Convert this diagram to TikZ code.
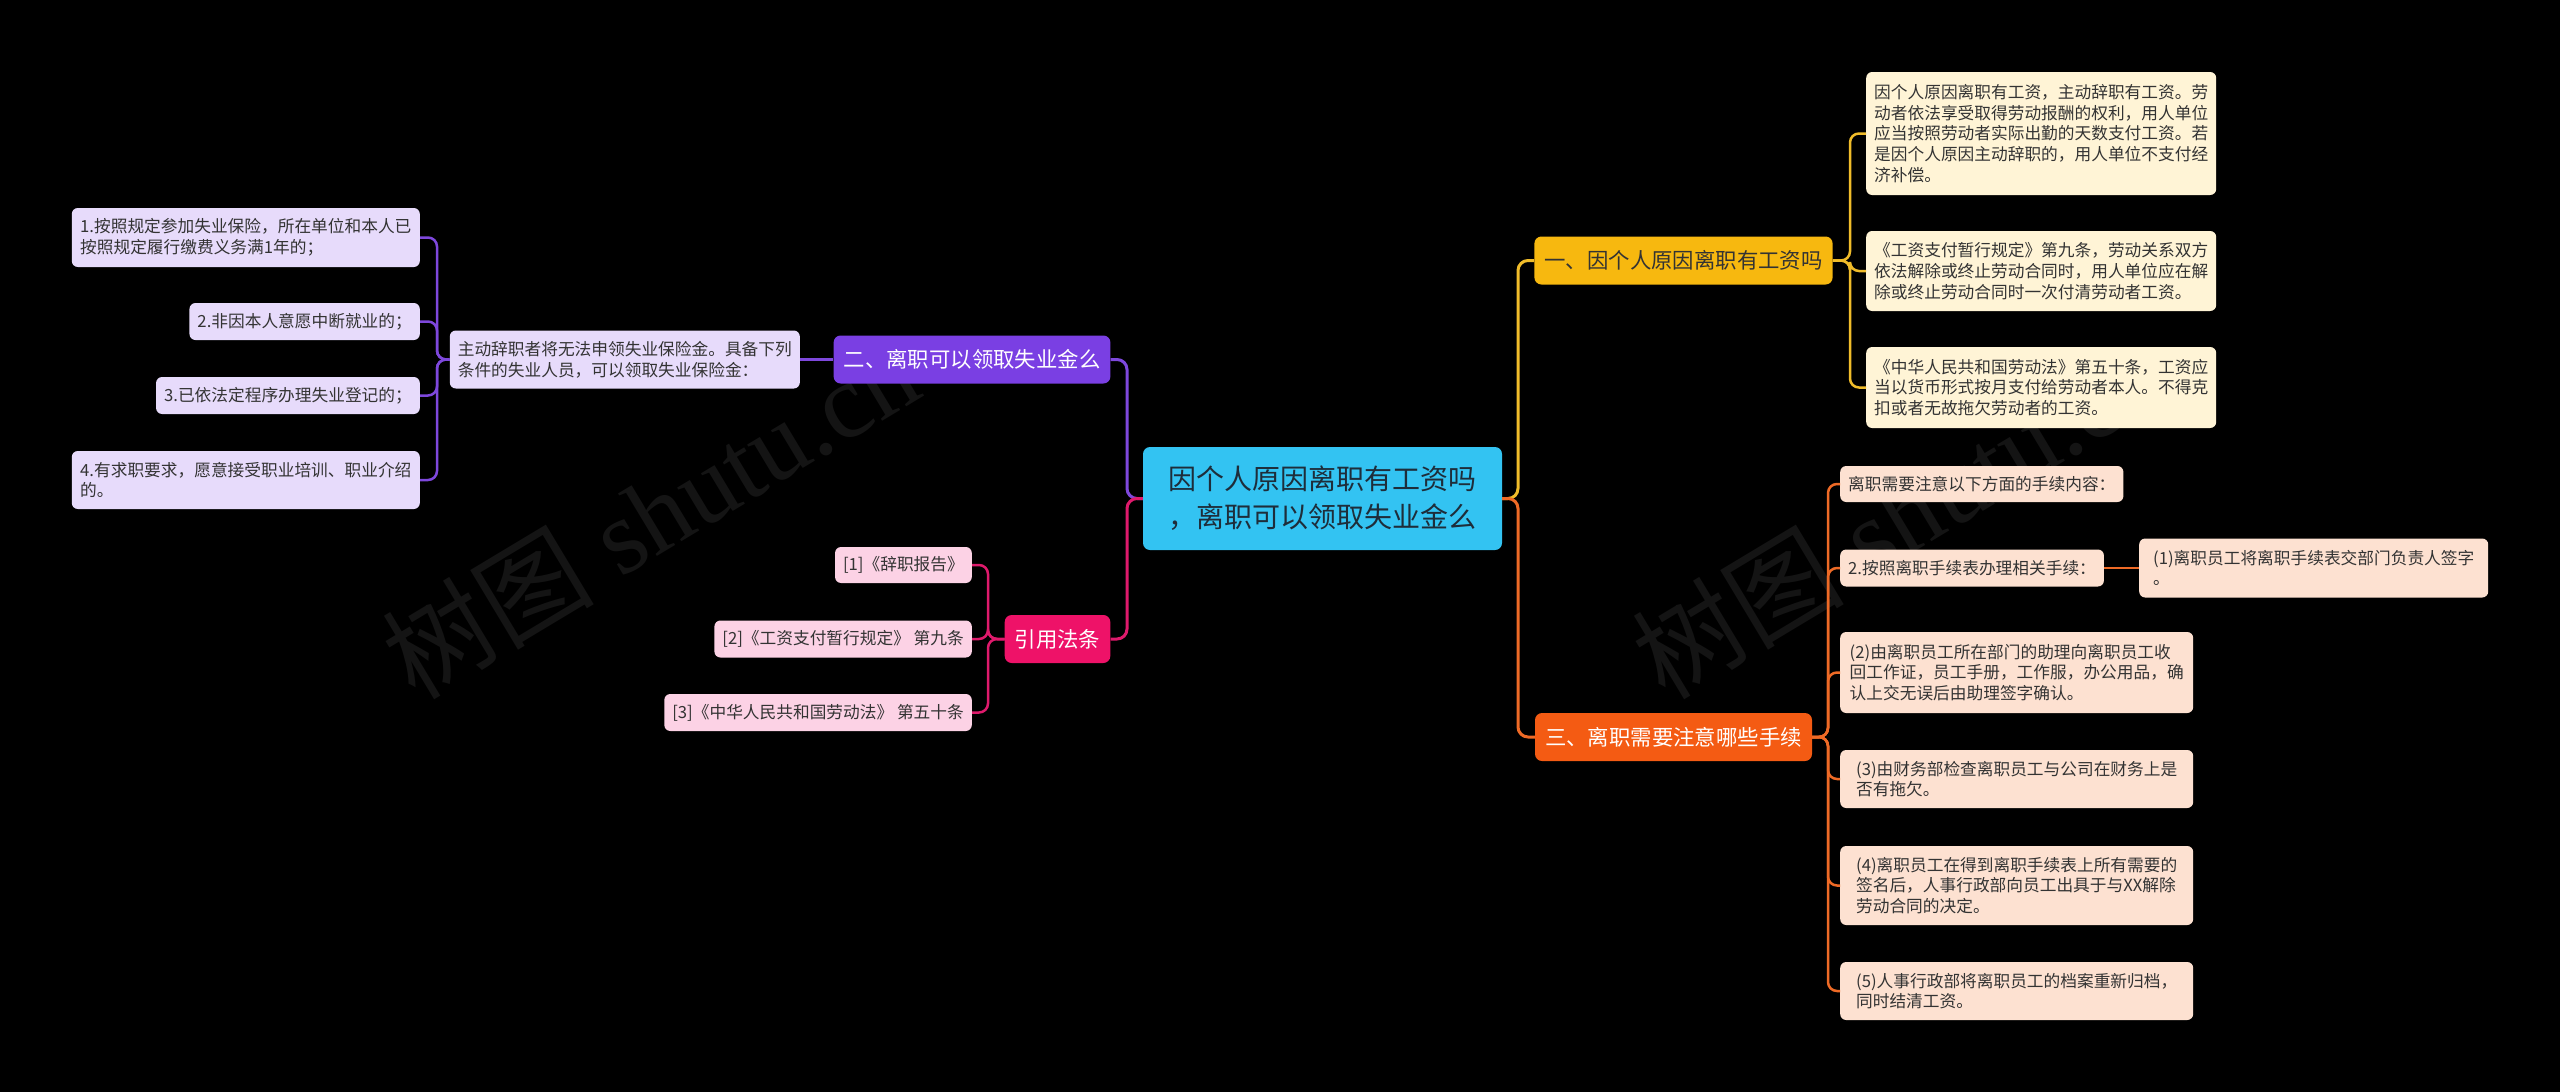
\documentclass[tikz,border=0pt]{standalone}
\usepackage{fontspec}
\setmainfont{Noto Sans CJK SC}
\newfontfamily\wmserif{Liberation Serif}
\definecolor{bg}{HTML}{000000}
\definecolor{rootfill}{HTML}{33C3F2}
\definecolor{roottext}{HTML}{1E2D3A}
\definecolor{darktext}{HTML}{333333}
\definecolor{bAfill}{HTML}{F7B80F}
\definecolor{yfill}{HTML}{FFF4D6}
\definecolor{ycon}{HTML}{F0BC2A}
\definecolor{bCfill}{HTML}{F45B13}
\definecolor{ofill}{HTML}{FDE1D1}
\definecolor{ocon}{HTML}{EE6A26}
\definecolor{bBfill}{HTML}{7A3FE3}
\definecolor{vfill}{HTML}{E7DBFB}
\definecolor{vcon}{HTML}{7E48DC}
\definecolor{bDfill}{HTML}{EE1268}
\definecolor{kfill}{HTML}{FCD2E5}
\definecolor{kcon}{HTML}{DF1A6C}
\definecolor{wmc}{HTML}{FFFFFF}
\begin{document}
\begin{tikzpicture}[x=1pt,y=-1pt,
  rootbox/.style={rounded corners=7pt, fill=rootfill, text=roottext, align=center,
    font=\fontsize{28}{38}\selectfont, minimum width=359pt, minimum height=103pt, inner sep=0pt},
  branchbox/.style={rounded corners=7pt, text=white, font=\fontsize{21.4}{26}\selectfont,
    minimum height=48pt, inner xsep=10pt, inner ysep=0pt},
  leafbox/.style={rounded corners=6pt, inner xsep=8pt, inner ysep=4pt, align=left, text=darktext,
    font=\fontsize{16.7}{20.7}\selectfont},
  yleaf/.style={leafbox, fill=yfill},
  oleaf/.style={leafbox, fill=ofill},
  vleaf/.style={leafbox, fill=vfill},
  kleaf/.style={leafbox, fill=kfill},
  mainline/.style={line width=3pt, rounded corners=10pt},
  subline/.style={line width=2.5pt, rounded corners=9pt},
  wmark/.style={text=wmc, opacity=0.08, rotate=31, font=\fontsize{106}{106}\selectfont}
]
\useasboundingbox (0,0) rectangle (2560,1092);
\fill[bg] (0,0) rectangle (2560,1092);

% watermarks
\node[wmark] (wm1) at (650,514) {树图\wmserif\ shutu.cn};
\node[wmark] (wm2) at (1900,514) {树图\wmserif\ shutu.cn};

% root
\node[rootbox] (root) at (1322.5,498.5) {因个人原因离职有工资吗\\，离职可以领取失业金么};

% branches
\node[branchbox, fill=bAfill, text=darktext, minimum width=297pt] (bA) at (1683.5,260.5) {一、因个人原因离职有工资吗};
\node[branchbox, fill=bCfill, minimum width=277pt] (bC) at (1673.5,737) {三、离职需要注意哪些手续};
\node[branchbox, fill=bBfill, minimum width=276pt] (bB) at (972,359.5) {二、离职可以领取失业金么};
\node[branchbox, fill=bDfill, minimum width=105pt] (bD) at (1057.5,639) {引用法条};

% branch A leaves
\node[yleaf, anchor=west, minimum width=350pt, minimum height=123pt] (a1) at (1866,133.5)
  {因个人原因离职有工资，主动辞职有工资。劳\\动者依法享受取得劳动报酬的权利，用人单位\\应当按照劳动者实际出勤的天数支付工资。若\\是因个人原因主动辞职的，用人单位不支付经\\济补偿。};
\node[yleaf, anchor=west, minimum width=350pt, minimum height=80pt] (a2) at (1866,271)
  {《工资支付暂行规定》第九条，劳动关系双方\\依法解除或终止劳动合同时，用人单位应在解\\除或终止劳动合同时一次付清劳动者工资。};
\node[yleaf, anchor=west, minimum width=350pt, minimum height=81pt] (a3) at (1866,387.5)
  {《中华人民共和国劳动法》第五十条，工资应\\当以货币形式按月支付给劳动者本人。不得克\\扣或者无故拖欠劳动者的工资。};

% branch C leaves
\node[oleaf, anchor=west, minimum height=36pt] (c1) at (1840,484) {离职需要注意以下方面的手续内容：};
\node[oleaf, anchor=west, minimum height=37pt] (c2) at (1840,568) {2.按照离职手续表办理相关手续：};
\node[oleaf, anchor=west, minimum width=349pt, minimum height=59pt] (c2a) at (2139,568) {(1)离职员工将离职手续表交部门负责人签字\\。};
\node[oleaf, anchor=west, minimum width=353pt, minimum height=81pt] (c3) at (1840,672.5)
  {(2)由离职员工所在部门的助理向离职员工收\\回工作证，员工手册，工作服，办公用品，确\\认上交无误后由助理签字确认。};
\node[oleaf, anchor=west, minimum width=353pt, minimum height=58pt] (c4) at (1840,779)
  {(3)由财务部检查离职员工与公司在财务上是\\否有拖欠。};
\node[oleaf, anchor=west, minimum width=353pt, minimum height=79pt] (c5) at (1840,885.5)
  {(4)离职员工在得到离职手续表上所有需要的\\签名后，人事行政部向员工出具于与XX解除\\劳动合同的决定。};
\node[oleaf, anchor=west, minimum width=353pt, minimum height=58pt] (c6) at (1840,991)
  {(5)人事行政部将离职员工的档案重新归档，\\同时结清工资。};

% branch B leaves
\node[vleaf, anchor=east, minimum height=58pt] (bp) at (800,359.5)
  {主动辞职者将无法申领失业保险金。具备下列\\条件的失业人员，可以领取失业保险金：};
\node[vleaf, anchor=east, minimum width=348pt, minimum height=59pt] (g1) at (420,237.5)
  {1.按照规定参加失业保险，所在单位和本人已\\按照规定履行缴费义务满1年的；};
\node[vleaf, anchor=east, minimum height=37pt] (g2) at (420,321.5) {2.非因本人意愿中断就业的；};
\node[vleaf, anchor=east, minimum height=37pt] (g3) at (420,395.5) {3.已依法定程序办理失业登记的；};
\node[vleaf, anchor=east, minimum width=348pt, minimum height=58pt] (g4) at (420,480)
  {4.有求职要求，愿意接受职业培训、职业介绍\\的。};

% branch D leaves
\node[kleaf, anchor=east, minimum height=36pt] (r1) at (972,565) {[1]《辞职报告》};
\node[kleaf, anchor=east, minimum height=37pt] (r2) at (972,639) {[2]《工资支付暂行规定》 第九条};
\node[kleaf, anchor=east, minimum height=37pt] (r3) at (972,712.5) {[3]《中华人民共和国劳动法》 第五十条};

% root connectors
\draw[mainline, draw=ycon] (root.east) -- (1518,498.5) |- (bA.west);
\draw[mainline, draw=ocon] (root.east) -- (1518,498.5) |- (bC.west);
\draw[mainline, draw=vcon] (root.west) -- (1127,498.5) |- (bB.east);
\draw[mainline, draw=kcon] (root.west) -- (1127,498.5) |- (bD.east);

% branch A connectors
\foreach \n in {a1,a2,a3}
  \draw[subline, draw=ycon] (bA.east) -- (1850,260.5) |- (\n.west);
% branch C connectors
\foreach \n in {c1,c2,c3,c4,c5,c6}
  \draw[subline, draw=ocon] (bC.east) -- (1828,737) |- (\n.west);
\draw[subline, draw=ocon] (c2.east) -- (c2a.west);
% branch B connectors
\draw[subline, draw=vcon] (bB.west) -- (bp.east);
\foreach \n in {g1,g2,g3,g4}
  \draw[subline, draw=vcon] (bp.west) -- (437,359.5) |- (\n.east);
% branch D connectors
\foreach \n in {r1,r2,r3}
  \draw[subline, draw=kcon] (bD.west) -- (988,639) |- (\n.east);
\end{tikzpicture}
\end{document}
